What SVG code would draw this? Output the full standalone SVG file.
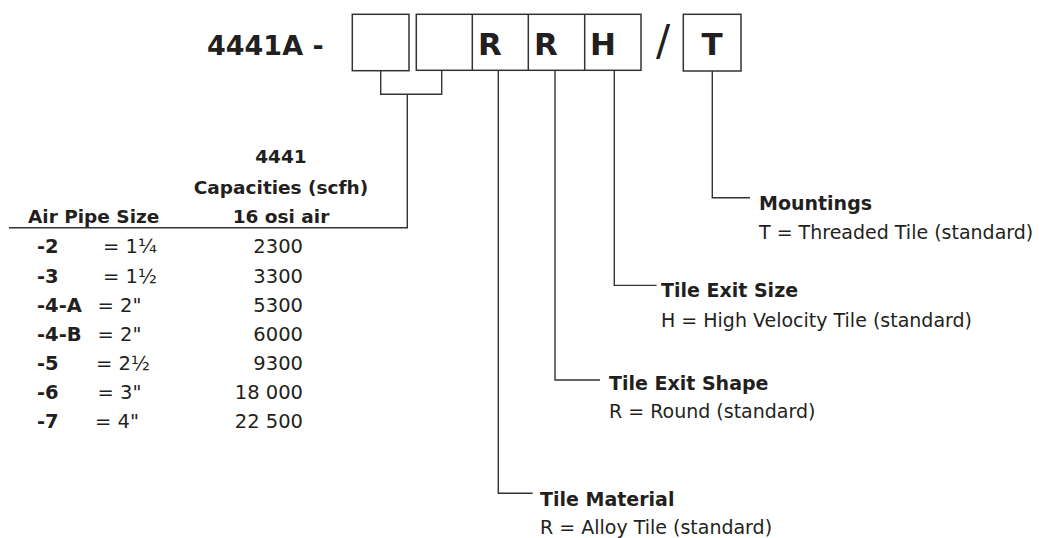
<svg xmlns="http://www.w3.org/2000/svg" width="1045" height="538" viewBox="0 0 1045 538">
<style>
text{font-family:"DejaVu Sans","Liberation Sans",sans-serif;fill:#231f20}
.h{font-weight:bold;font-size:19px}
.b{font-size:19px}
.tb{font-weight:bold;font-size:18.5px}
.row{font-size:19.5px}
.rb{font-size:19.5px;font-weight:bold}
.code{font-weight:bold;font-size:31px}
.box{fill:none;stroke:#333;stroke-width:1.5}
.ln{fill:none;stroke:#333;stroke-width:1.4}
</style>
<rect width="1045" height="538" fill="#fff"/>
<g id="title">
<text x="207" y="55" class="code" style="font-size:27px">4441A -</text>
</g>
<g id="box1"><rect class="box" x="352.3" y="14.3" width="56.7" height="56.4"/></g>
<g id="box2">
<rect class="box" x="416.3" y="14.3" width="224.7" height="56"/>
<line class="box" x1="472.3" y1="14.3" x2="472.3" y2="70.3"/>
<line class="box" x1="528.3" y1="14.3" x2="528.3" y2="70.3"/>
<line class="box" x1="584.7" y1="14.3" x2="584.7" y2="70.3"/>
<text x="490" y="55" class="code" text-anchor="middle">R</text>
<text x="546" y="55" class="code" text-anchor="middle">R</text>
<text x="603" y="55" class="code" text-anchor="middle">H</text>
</g>
<g id="slash"><text x="663" y="55" text-anchor="middle" style="font-size:42px">/</text></g>
<g id="box3">
<rect class="box" x="683.3" y="14.3" width="57.7" height="56.7"/>
<text x="712" y="55" class="code" text-anchor="middle">T</text>
</g>
<g id="connectors">
<polyline class="ln" points="380.7,70.7 380.7,94.3 441.7,94.3 441.7,70.3"/>
<polyline class="ln" points="407.3,94.3 407.3,227.7 9,227.7"/>
<polyline class="ln" points="498.3,70.3 498.3,493.3 532.7,493.3"/>
<polyline class="ln" points="555,70.3 555,380 600,380"/>
<polyline class="ln" points="614.3,70.3 614.3,285.4 656.6,285.4"/>
<polyline class="ln" points="712.3,71 712.3,197.8 750,197.8"/>
</g>
<g id="mountings">
<text x="759" y="210" class="h">Mountings</text>
<text x="759" y="239" class="b">T = Threaded Tile (standard)</text>
</g>
<g id="exit-size">
<text x="661" y="297" class="h">Tile Exit Size</text>
<text x="661" y="327" class="b">H = High Velocity Tile (standard)</text>
</g>
<g id="exit-shape">
<text x="609" y="390" class="h">Tile Exit Shape</text>
<text x="609" y="418" class="b">R = Round (standard)</text>
</g>
<g id="material">
<text x="540" y="506" class="h">Tile Material</text>
<text x="540" y="534" class="b">R = Alloy Tile (standard)</text>
</g>
<g id="table">
<text x="281" y="163" class="tb" text-anchor="middle">4441</text>
<text x="281" y="193.5" class="tb" text-anchor="middle">Capacities (scfh)</text>
<text x="281" y="222.5" class="tb" text-anchor="middle">16 osi air</text>
<text x="28" y="222.5" class="tb">Air Pipe Size</text>
<text x="37" y="253" class="rb">-2</text><text x="103" y="253" class="row">= 1¼</text><text x="303" y="253" class="row" text-anchor="end">2300</text>
<text x="37" y="282.5" class="rb">-3</text><text x="103" y="282.5" class="row">= 1½</text><text x="303" y="282.5" class="row" text-anchor="end">3300</text>
<text x="37" y="311.7" class="rb">-4-A</text><text x="97.5" y="311.7" class="row">= 2"</text><text x="303" y="311.7" class="row" text-anchor="end">5300</text>
<text x="37" y="340.7" class="rb">-4-B</text><text x="97.5" y="340.7" class="row">= 2"</text><text x="303" y="340.7" class="row" text-anchor="end">6000</text>
<text x="37" y="370" class="rb">-5</text><text x="96" y="370" class="row">= 2½</text><text x="303" y="370" class="row" text-anchor="end">9300</text>
<text x="37" y="398.7" class="rb">-6</text><text x="97.5" y="398.7" class="row">= 3"</text><text x="303" y="398.7" class="row" text-anchor="end">18 000</text>
<text x="37" y="427.5" class="rb">-7</text><text x="95" y="427.5" class="row">= 4"</text><text x="303" y="427.5" class="row" text-anchor="end">22 500</text>
</g>
</svg>
